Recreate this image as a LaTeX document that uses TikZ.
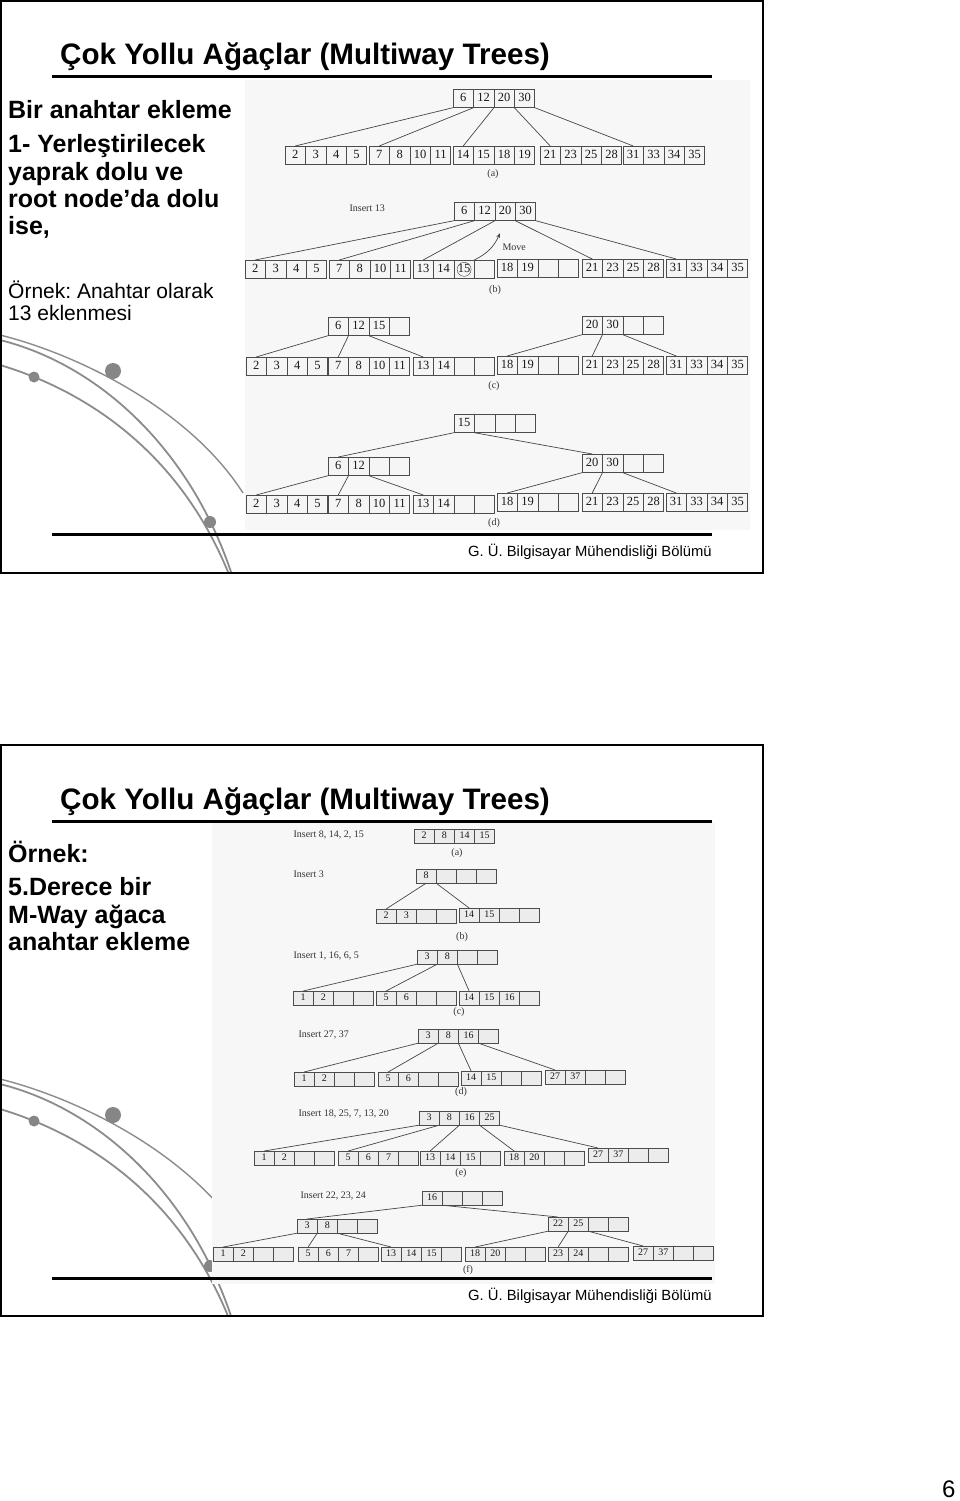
\documentclass[tikz,border=0pt]{standalone}
\usepackage{fontspec}
\setmainfont{Liberation Sans}
\newfontfamily\bookfont{Liberation Serif}
\usetikzlibrary{shapes.multipart,arrows.meta,calc}

% one key cell of a tree node
\newcommand{\cellbox}[1]{\makebox[\cellw][c]{\rule[-\celld]{0pt}{\cellh}#1}}
\newcommand{\keys}[4]{\cellbox{#1}\nodepart{two}\cellbox{#2}\nodepart{three}\cellbox{#3}\nodepart{four}\cellbox{#4}}

\tikzset{
  keybox/.style={rectangle split, rectangle split horizontal, rectangle split parts=4,
    rectangle split ignore empty parts=false, draw=gray!60!black, fill=gray!8,
    line width=0.7pt, inner sep=0pt, anchor=north west, text=gray!20!black,
    font=\bookfont\fontsize{12.5}{12.5}\selectfont\def\cellw{19.75pt}\def\cellh{18pt}\def\celld{5.5pt}},
  smallbox/.style={keybox, fill=gray!15,
    font=\bookfont\fontsize{10}{10}\selectfont\def\cellw{19.5pt}\def\cellh{13.5pt}\def\celld{4pt}},
  link/.style={draw=gray!55!black, line width=0.7pt},
  caption/.style={font=\bookfont\fontsize{10}{10}\selectfont, text=gray!40!black},
  deco/.style={draw=gray!90, line width=1.8pt},
  scan/.style={fill=gray!6},
  frame/.style={draw=black, line width=2pt},
  rule/.style={draw=black, line width=3pt},
}

\begin{document}
\frenchspacing
\begin{tikzpicture}[x=1pt,y=-1pt]
\useasboundingbox[fill=white] (0,0) rectangle (960,1501);

% curves at the left of each slide
\foreach \dy in {0,744}{
\begin{scope}[shift={(0,\dy)}]
\draw[deco, line width=1.4pt] (0,335) .. controls (80,355) and (190,410) .. (243,493);
\draw[deco] (0,340) .. controls (100,365) and (190,450) .. (231,572);
\draw[deco] (0,365) .. controls (90,392) and (180,455) .. (228,572);
\fill[gray!95] (113,371) circle (8);
\fill[gray!95] (34,377) circle (5.5);
\fill[gray!95] (210,522) circle (6);
\end{scope}
}

% slide 1
\fill[scan] (245,80) rectangle (750,530);
\draw[frame] (1,1) rectangle (763,573);
\node[anchor=base west, inner sep=0pt] (t1) at (60,65) {\fontsize{29.6}{30}\selectfont\bfseries Çok Yollu Ağaçlar (Multiway Trees)};
\draw[rule] (52,77) -- (712,77);
\node[anchor=base west, inner sep=0pt] (l1) at (8,119) {\fontsize{25}{25}\selectfont\bfseries Bir anahtar ekleme};
\node[anchor=base west, inner sep=0pt] (l2) at (8,153) {\fontsize{25}{25}\selectfont\bfseries 1- Yerleştirilecek};
\node[anchor=base west, inner sep=0pt] (l3) at (8,180) {\fontsize{25}{25}\selectfont\bfseries yaprak dolu ve};
\node[anchor=base west, inner sep=0pt] (l4) at (8,207) {\fontsize{25}{25}\selectfont\bfseries root node’da dolu};
\node[anchor=base west, inner sep=0pt] (l5) at (8,234) {\fontsize{25}{25}\selectfont\bfseries ise,};
\node[anchor=base west, inner sep=0pt] (l6) at (8,298) {\fontsize{21}{21}\selectfont Örnek: Anahtar olarak};
\node[anchor=base west, inner sep=0pt] (l7) at (8,320) {\fontsize{21}{21}\selectfont 13 eklenmesi};

% (a)
\node[keybox] (ta0) at (453,89) {\keys{6}{12}{20}{30}};
\node[keybox] (ta1) at (285,146) {\keys{2}{3}{4}{5}};
\node[keybox] (ta2) at (369,146) {\keys{7}{8}{10}{11}};
\node[keybox] (ta3) at (453,146) {\keys{14}{15}{18}{19}};
\node[keybox] (ta4) at (540,146) {\keys{21}{23}{25}{28}};
\node[keybox] (ta5) at (623,146) {\keys{31}{33}{34}{35}};
\draw[link] (ta0.south west) -- (ta1.one north);
\draw[link] (ta0.one split south) -- (ta2.one north);
\draw[link] (ta0.two split south) -- (ta3.one north);
\draw[link] (ta0.three split south) -- (ta4.one north);
\draw[link] (ta0.south east) -- (ta5.one north);
\node[caption] (capa) at (493,174) {(a)};

% (b)
\node[caption, anchor=west] (insb) at (346,208) {Insert 13};
\node[keybox] (tb0) at (454,202) {\keys{6}{12}{20}{30}};
\node[keybox] (tb1) at (245,260) {\keys{2}{3}{4}{5}};
\node[keybox] (tb2) at (329,260) {\keys{7}{8}{10}{11}};
\node[keybox] (tb3) at (413,260) {\keys{13}{14}{15}{}};
\node[keybox] (tb4) at (497,259) {\keys{18}{19}{}{}};
\node[keybox] (tb5) at (582,259) {\keys{21}{23}{25}{28}};
\node[keybox] (tb6) at (666,259) {\keys{31}{33}{34}{35}};
\draw[link] (tb0.south west) -- (tb1.one north);
\draw[link] (tb0.one split south) -- (tb2.one north);
\draw[link] (tb0.two split south) -- (tb3.one north);
\draw[link] (tb0.three split south) -- (tb5.one north);
\draw[link] (tb0.south east) -- (tb6.one north);
\node[draw=gray!50!black, circle, minimum size=14pt, inner sep=0pt] (ring) at ($(tb3.three north)!0.5!(tb3.three south)$) {};
\coordinate (mv) at (500,233);
\draw[link, -{Stealth[length=5pt]}] (tb3.three split north) to[bend right=20] (mv);
\node[caption, anchor=west] (move) at (499,247) {Move};
\node[caption] (capb) at (495,290) {(b)};

% (c)
\node[keybox] (tc0) at (328,317) {\keys{6}{12}{15}{}};
\node[keybox] (tc1) at (246,357) {\keys{2}{3}{4}{5}};
\node[keybox] (tc2) at (328,357) {\keys{7}{8}{10}{11}};
\node[keybox] (tc3) at (413,357) {\keys{13}{14}{}{}};
\node[keybox] (tc4) at (582,316) {\keys{20}{30}{}{}};
\node[keybox] (tc5) at (497,356) {\keys{18}{19}{}{}};
\node[keybox] (tc6) at (582,356) {\keys{21}{23}{25}{28}};
\node[keybox] (tc7) at (666,356) {\keys{31}{33}{34}{35}};
\draw[link] (tc0.south west) -- (tc1.one north);
\draw[link] (tc0.one split south) -- (tc2.one north);
\draw[link] (tc0.two split south) -- (tc3.one north);
\draw[link] (tc4.south west) -- (tc5.one north);
\draw[link] (tc4.one split south) -- (tc6.one north);
\draw[link] (tc4.two split south) -- (tc7.one north);
\node[caption] (capc) at (494,386) {(c)};

% (d)
\node[keybox] (td0) at (454,414) {\keys{15}{}{}{}};
\node[keybox] (td1) at (328,457) {\keys{6}{12}{}{}};
\node[keybox] (td2) at (582,454) {\keys{20}{30}{}{}};
\node[keybox] (td3) at (246,495) {\keys{2}{3}{4}{5}};
\node[keybox] (td4) at (328,495) {\keys{7}{8}{10}{11}};
\node[keybox] (td5) at (413,495) {\keys{13}{14}{}{}};
\node[keybox] (td6) at (497,493) {\keys{18}{19}{}{}};
\node[keybox] (td7) at (582,493) {\keys{21}{23}{25}{28}};
\node[keybox] (td8) at (666,493) {\keys{31}{33}{34}{35}};
\draw[link] (td0.south west) -- (td1.one north);
\draw[link] (td0.one split south) -- (td2.one north);
\draw[link] (td1.south west) -- (td3.one north);
\draw[link] (td1.one split south) -- (td4.one north);
\draw[link] (td1.two split south) -- (td5.one north);
\draw[link] (td2.south west) -- (td6.one north);
\draw[link] (td2.one split south) -- (td7.one north);
\draw[link] (td2.two split south) -- (td8.one north);
\node[caption] (capd) at (494,523) {(d)};

\draw[rule] (52,534) -- (712,534);
\node[anchor=base west, inner sep=0pt] (f1) at (468,556) {\fontsize{14.8}{15}\selectfont G. Ü. Bilgisayar Mühendisliği Bölümü};

% slide 2
\fill[scan] (212,822) rectangle (715,1284);
\draw[frame] (1,745) rectangle (763,1316);
\node[anchor=base west, inner sep=0pt] (t2) at (60,809) {\fontsize{29.6}{30}\selectfont\bfseries Çok Yollu Ağaçlar (Multiway Trees)};
\draw[rule] (52,821) -- (712,821);
\node[anchor=base west, inner sep=0pt] (r1) at (8,862) {\fontsize{25}{25}\selectfont\bfseries Örnek:};
\node[anchor=base west, inner sep=0pt] (r2) at (8,895) {\fontsize{25}{25}\selectfont\bfseries 5.Derece bir};
\node[anchor=base west, inner sep=0pt] (r3) at (8,923) {\fontsize{25}{25}\selectfont\bfseries M-Way ağaca};
\node[anchor=base west, inner sep=0pt] (r4) at (8,950) {\fontsize{25}{25}\selectfont\bfseries anahtar ekleme};

% (a)
\node[caption, anchor=west] (insa) at (290,835) {Insert 8, 14, 2, 15};
\node[smallbox] (ba0) at (414,829) {\keys{2}{8}{14}{15}};
\node[caption] (cap2a) at (457,853) {(a)};

% (b)
\node[caption, anchor=west] (ins2b) at (290,874) {Insert 3};
\node[smallbox] (bb0) at (416,869) {\keys{8}{}{}{}};
\node[smallbox] (bb1) at (376,909) {\keys{2}{3}{}{}};
\node[smallbox] (bb2) at (459,908) {\keys{14}{15}{}{}};
\draw[link] (bb0.one south) -- (bb1.one north);
\draw[link] (bb0.one split south) -- (bb2.one north);
\node[caption] (cap2b) at (462,937) {(b)};

% (c)
\node[caption, anchor=west] (ins2c) at (290,956) {Insert 1, 16, 6, 5};
\node[smallbox] (bc0) at (417,950) {\keys{3}{8}{}{}};
\node[smallbox] (bc1) at (293,991) {\keys{1}{2}{}{}};
\node[smallbox] (bc2) at (376,991) {\keys{5}{6}{}{}};
\node[smallbox] (bc3) at (459,991) {\keys{14}{15}{16}{}};
\draw[link] (bc0.south west) -- (bc1.one north);
\draw[link] (bc0.one split south) -- (bc2.one north);
\draw[link] (bc0.two split south) -- (bc3.one north);
\node[caption] (cap2c) at (459,1012) {(c)};

% (d)
\node[caption, anchor=west] (ins2d) at (295,1035) {Insert 27, 37};
\node[smallbox] (bd0) at (418,1029) {\keys{3}{8}{16}{}};
\node[smallbox] (bd1) at (294,1072) {\keys{1}{2}{}{}};
\node[smallbox] (bd2) at (378,1072) {\keys{5}{6}{}{}};
\node[smallbox] (bd3) at (461,1071) {\keys{14}{15}{}{}};
\node[smallbox] (bd4) at (545,1070) {\keys{27}{37}{}{}};
\draw[link] (bd0.south west) -- (bd1.one north);
\draw[link] (bd0.one split south) -- (bd2.one north);
\draw[link] (bd0.two split south) -- (bd3.one north);
\draw[link] (bd0.three split south) -- (bd4.one north);
\node[caption] (cap2d) at (461,1092) {(d)};

% (e)
\node[caption, anchor=west] (ins2e) at (295,1114) {Insert 18, 25, 7, 13, 20};
\node[smallbox] (be0) at (419,1111) {\keys{3}{8}{16}{25}};
\node[smallbox] (be1) at (254,1151) {\keys{1}{2}{}{}};
\node[smallbox] (be2) at (338,1151) {\keys{5}{6}{7}{}};
\node[smallbox] (be3) at (420,1151) {\keys{13}{14}{15}{}};
\node[smallbox] (be4) at (504,1151) {\keys{18}{20}{}{}};
\node[smallbox] (be5) at (588,1148) {\keys{27}{37}{}{}};
\draw[link] (be0.south west) -- (be1.one north);
\draw[link] (be0.one split south) -- (be2.one north);
\draw[link] (be0.two split south) -- (be3.one north);
\draw[link] (be0.three split south) -- (be4.one north);
\draw[link] (be0.south east) -- (be5.one north);
\node[caption] (cap2e) at (461,1173) {(e)};

% (f)
\node[caption, anchor=west] (ins2f) at (297,1196) {Insert 22, 23, 24};
\node[smallbox] (bf0) at (422,1191) {\keys{16}{}{}{}};
\node[smallbox] (bf1) at (297,1219) {\keys{3}{8}{}{}};
\node[smallbox] (bf2) at (548,1217) {\keys{22}{25}{}{}};
\node[smallbox] (bf3) at (213,1247) {\keys{1}{2}{}{}};
\node[smallbox] (bf4) at (298,1247) {\keys{5}{6}{7}{}};
\node[smallbox] (bf5) at (381,1247) {\keys{13}{14}{15}{}};
\node[smallbox] (bf6) at (465,1247) {\keys{18}{20}{}{}};
\node[smallbox] (bf7) at (548,1247) {\keys{23}{24}{}{}};
\node[smallbox] (bf8) at (633,1246) {\keys{27}{37}{}{}};
\draw[link] (bf0.south west) -- (bf1.one north);
\draw[link] (bf0.one split south) -- (bf2.one north);
\draw[link] (bf1.south west) -- (bf3.one north);
\draw[link] (bf1.one split south) -- (bf4.one north);
\draw[link] (bf1.two split south) -- (bf5.one north);
\draw[link] (bf2.south west) -- (bf6.one north);
\draw[link] (bf2.one split south) -- (bf7.one north);
\draw[link] (bf2.two split south) -- (bf8.one north);
\node[caption] (cap2f) at (468,1270) {(f)};

\draw[rule] (52,1278) -- (712,1278);
\node[anchor=base west, inner sep=0pt] (f2) at (468,1300) {\fontsize{14.8}{15}\selectfont G. Ü. Bilgisayar Mühendisliği Bölümü};

\node[anchor=base west, inner sep=0pt] (pg) at (942,1497) {\fontsize{24}{24}\selectfont 6};
\end{tikzpicture}
\end{document}
